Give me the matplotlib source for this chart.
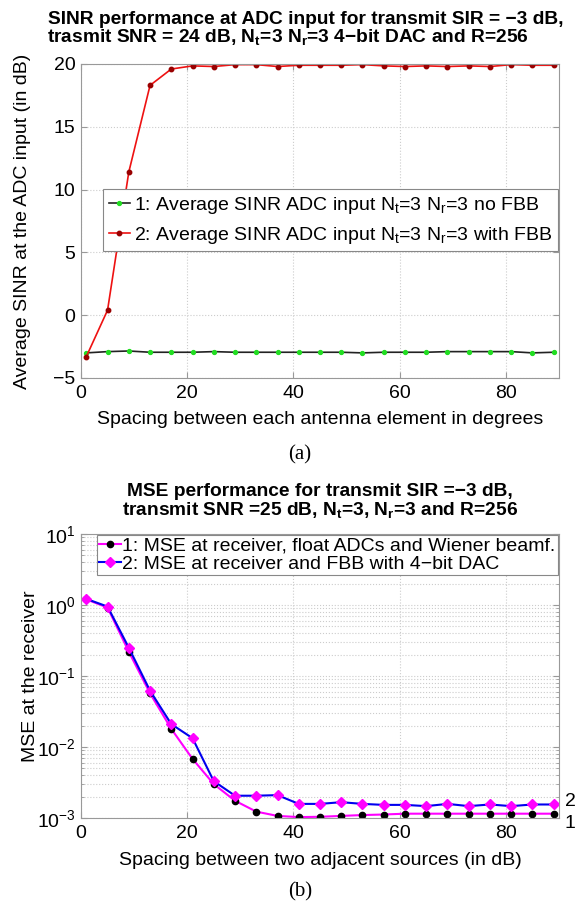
import numpy as np
import matplotlib
matplotlib.use('Agg')
import matplotlib.pyplot as plt
from matplotlib.ticker import LogLocator, NullFormatter

plt.rcParams['font.family'] = ['Liberation Sans', 'DejaVu Sans']
plt.rcParams['mathtext.fontset'] = 'custom'
plt.rcParams['mathtext.rm'] = 'Liberation Sans'
plt.rcParams['mathtext.it'] = 'Liberation Sans:italic'
plt.rcParams['mathtext.bf'] = 'Liberation Sans:bold'

# (a) SINR at ADC input vs antenna spacing
spacing_deg = [1, 5, 9, 13, 17, 21, 25, 29, 33, 37, 41, 45, 49, 53, 57, 61, 65, 69, 73, 77, 81, 85, 89]
sinr_no_fbb = [-3.0, -2.9, -2.85, -2.95, -2.95, -2.95, -2.9, -2.95, -2.95, -2.95, -2.95, -2.95,
               -2.95, -3.0, -2.95, -2.95, -2.95, -2.9, -2.9, -2.9, -2.9, -3.0, -2.95]
sinr_fbb = [-3.3, 0.4, 11.4, 18.3, 19.6, 19.85, 19.8, 19.95, 19.95, 19.8, 19.9, 19.9,
            19.9, 19.95, 19.85, 19.8, 19.85, 19.8, 19.85, 19.8, 19.95, 19.9, 19.9]

# (b) MSE vs source spacing
spacing_db = [1, 5, 9, 13, 17, 21, 25, 29, 33, 37, 41, 45, 49, 53, 57, 61, 65, 69, 73, 77, 81, 85, 89]
mse_float = [1.2, 0.92, 0.22, 0.057, 0.018, 0.0068, 0.0030, 0.00175, 0.00123, 0.00107, 0.00103, 0.00104,
             0.00107, 0.0011, 0.00112, 0.00115, 0.00115, 0.00115, 0.00115, 0.00115, 0.00115, 0.00115, 0.00115]
mse_fbb = [1.22, 0.95, 0.25, 0.062, 0.021, 0.0133, 0.0033, 0.00206, 0.00206, 0.0021, 0.00158, 0.00158,
           0.00167, 0.00158, 0.00153, 0.00153, 0.00147, 0.00158, 0.00147, 0.00155, 0.00147, 0.00155, 0.00155]

W, H = 576., 901.
fig = plt.figure(figsize=(W / 100, H / 100), dpi=100)
ax1 = fig.add_axes([81 / W, 1 - 378 / H, 478 / W, 314 / H])
ax2 = fig.add_axes([81 / W, 1 - 818 / H, 478 / W, 284 / H])

fs = 14
for ax in (ax1, ax2):
    for sp in ax.spines.values():
        sp.set_color('#999999')
        sp.set_linewidth(0.8)
    ax.tick_params(direction='in', labelsize=fs, color='#999999', length=4,
                   top=True, right=True)
    ax.tick_params(axis='x', pad=5)
    ax.tick_params(axis='y', pad=4)
    ax.tick_params(which='minor', direction='in', color='#999999', length=2, top=False, right=True)

ax1.plot(spacing_deg, sinr_no_fbb, color='#222222', lw=1.2, marker='o', ms=2.8,
         mfc='#22dd22', mec='#22dd22', label='1: Average SINR ADC input N$_{\\rm t}$=3 N$_{\\rm r}$=3 no FBB')
ax1.plot(spacing_deg, sinr_fbb, color='#ee1111', lw=1.2, marker='o', ms=3.2,
         mfc='#990000', mec='#990000', label='2: Average SINR ADC input N$_{\\rm t}$=3 N$_{\\rm r}$=3 with FBB')
ax1.set_xlim(0, 90)
ax1.set_ylim(-5, 20)
ax1.set_xticks([0, 20, 40, 60, 80])
ax1.set_yticks([-5, 0, 5, 10, 15, 20])
ax1.set_yticklabels(['\u22125', '0', '5', '10', '15', '20'])
ax1.grid(True, ls=':', color='#cccccc', lw=0.8)
ax1.set_xlabel('Spacing between each antenna element in degrees', fontsize=fs)
ax1.set_ylabel('Average SINR at the ADC input (in dB)', fontsize=fs)
ax1.xaxis.set_label_coords(0.5, -0.105)
ax1.yaxis.set_label_coords(-0.105, 0.5)
leg1 = ax1.legend(loc='lower right', bbox_to_anchor=(1.0, 0.40), fontsize=fs, handlelength=1.1,
                  handletextpad=0.2, borderpad=0.3, labelspacing=0.45, borderaxespad=0.05,
                  fancybox=False, framealpha=1)
leg1.get_frame().set_edgecolor('#888888')
leg1.get_frame().set_linewidth(0.8)

ax2.semilogy(spacing_db, mse_float, color='#ff00ff', lw=1.5, marker='o', ms=4.5,
             mfc='black', mec='black', label='1: MSE at receiver, float ADCs and Wiener beamf.')
ax2.semilogy(spacing_db, mse_fbb, color='#0000ee', lw=1.5, marker='D', ms=5.5,
             mfc='#ff00ff', mec='#ff00ff', label='2: MSE at receiver and FBB with 4\u2212bit DAC')
ax2.set_xlim(0, 90)
ax2.set_ylim(1e-3, 1e1)
ax2.set_xticks([0, 20, 40, 60, 80])
ax2.yaxis.set_major_locator(LogLocator(base=10, numticks=10))
ax2.yaxis.set_minor_locator(LogLocator(base=10, subs=np.arange(2, 10), numticks=10))
ax2.yaxis.set_minor_formatter(NullFormatter())
ax2.grid(True, which='major', ls=':', color='#cccccc', lw=0.8)
ax2.grid(True, which='minor', axis='y', ls=':', color='#cccccc', lw=0.8)
ax2.set_xlabel('Spacing between two adjacent sources (in dB)', fontsize=fs)
ax2.set_ylabel('MSE at the receiver', fontsize=fs)
ax2.xaxis.set_label_coords(0.5, -0.118)
ax2.yaxis.set_label_coords(-0.088, 0.5)
leg2 = ax2.legend(loc='upper right', bbox_to_anchor=(1.0, 1.0), fontsize=fs, handlelength=1.1,
                  handletextpad=0.1, borderpad=0.12, labelspacing=0.0, borderaxespad=0.05,
                  fancybox=False, framealpha=1)
leg2.get_frame().set_edgecolor('#888888')
leg2.get_frame().set_linewidth(0.8)

# curve labels at right edge
ax2.annotate('2', xy=(1.0, mse_fbb[-1]), xycoords=('axes fraction', 'data'),
             xytext=(4, 2), textcoords='offset points', fontsize=fs, va='center')
ax2.annotate('1', xy=(1.0, mse_float[-1]), xycoords=('axes fraction', 'data'),
             xytext=(4, -7), textcoords='offset points', fontsize=fs, va='center')

# titles, placed line by line
tkw = dict(fontsize=13.8, fontweight='bold', ha='center', va='baseline')
fig.text(306 / W, 1 - 24 / H, 'SINR performance at ADC input for transmit SIR = \u22123 dB,', **tkw)
fig.text(288 / W, 1 - 42 / H,
         'trasmit SNR = 24 dB, N$_{\\bf t}$=3 N$_{\\bf r}$=3 4\u2212bit DAC and R=256', **tkw)
fig.text(320 / W, 1 - 496 / H, 'MSE performance for transmit SIR =\u22123 dB,', **tkw)
fig.text(320 / W, 1 - 515 / H, 'transmit SNR =25 dB, N$_{\\bf t}$=3, N$_{\\bf r}$=3 and R=256', **tkw)

ckw = dict(fontsize=15, family=['Liberation Serif', 'DejaVu Serif'], ha='center', va='center')
fig.text(300 / W, 1 - 455 / H, '(a)', **ckw)
fig.text(300 / W, 1 - 892 / H, '(b)', **ckw)

fig.savefig('out.png', dpi=100)
